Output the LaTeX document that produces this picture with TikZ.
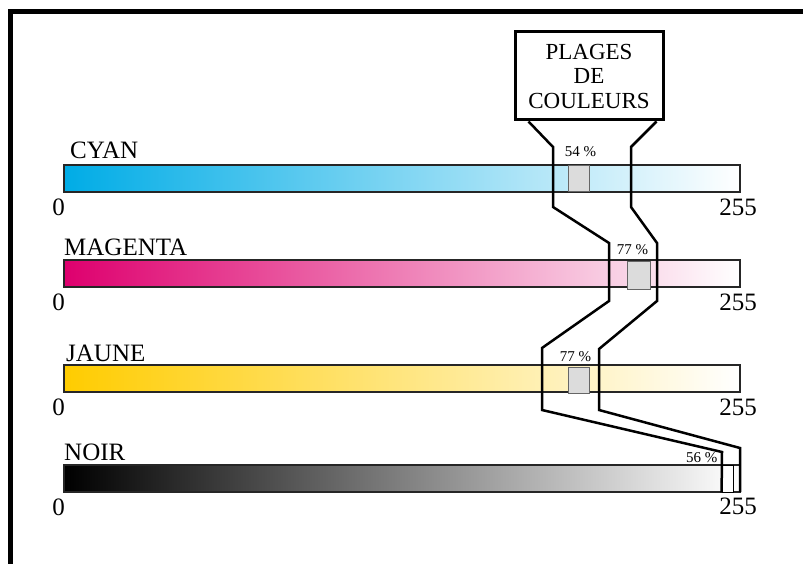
\documentclass[tikz,border=0pt]{standalone}
\usepackage{fontspec}
\setmainfont{Liberation Serif}
\usepackage{xcolor}
\usetikzlibrary{positioning}
\definecolor{inkcyan}{RGB}{0,172,230}
\definecolor{inkmagenta}{RGB}{222,0,110}
\definecolor{inkjaune}{RGB}{255,204,0}
\definecolor{knobgray}{RGB}{220,220,220}

\begin{document}
\begin{tikzpicture}[
  x=1pt, y=-1pt,
  bar/.style={rectangle, draw=black!85, line width=2pt, anchor=north west,
              minimum width=676pt, minimum height=27pt, inner sep=0pt,
              outer sep=0pt, right color=white},
  knob/.style={rectangle, draw=black!60, line width=0.8pt, fill=knobgray,
               minimum width=21pt, minimum height=26pt, inner sep=0pt},
  barlabel/.style={inner sep=0pt, font=\fontsize{25}{28}\selectfont},
  pct/.style={inner sep=0pt, font=\fontsize{15}{17}\selectfont},
  titlebox/.style={rectangle, draw, line width=3pt, align=center,
                   minimum width=148pt, minimum height=88pt, inner sep=0pt,
                   font=\fontsize{23}{24.5}\selectfont},
  conn/.style={line width=2.5pt, black, line join=miter},
  frame/.style={line width=5pt, black}
]
\useasboundingbox (0,0) rectangle (803,564);
\draw[frame] (810,12) -- (10,12) -- (10,570);

\node[titlebox] (plages) at (589,76) {PLAGES\\DE\\COULEURS};

\node[bar, left color=inkcyan] (cyan) at (64,165) {};
\node[bar, left color=inkmagenta] (magenta) at (64,260) {};
\node[bar, left color=inkjaune] (jaune) at (64,365) {};
\node[bar, left color=black] (noir) at (64,465) {};

\node[barlabel, above right=6pt and 6pt of cyan.north west] {CYAN};
\node[barlabel, above right=4pt and 0pt of magenta.north west] {MAGENTA};
\node[barlabel, above right=3pt and 2pt of jaune.north west] {JAUNE};
\node[barlabel, above right=4pt and 0pt of noir.north west] {NOIR};

\node[barlabel, below left=7pt and -1pt of cyan.south west] {0};
\node[barlabel, below left=7pt and -1pt of magenta.south west] {0};
\node[barlabel, below left=7pt and -1pt of jaune.south west] {0};
\node[barlabel, below left=7pt and -1pt of noir.south west] {0};

\node[barlabel, below=7pt of cyan.south east, xshift=-2pt] {255};
\node[barlabel, below=7pt of magenta.south east, xshift=-2pt] {255};
\node[barlabel, below=7pt of jaune.south east, xshift=-2pt] {255};
\node[barlabel, below=6pt of noir.south east, xshift=-2pt] {255};

\node[knob] (kcyan) at (578.5,178) {};
\node[knob, minimum width=23pt, minimum height=28pt] (kmagenta) at (638.5,275) {};
\node[knob] (kjaune) at (578.5,380) {};
\node[knob, fill=white, draw=black, minimum width=11pt, minimum height=27pt] (knoir) at (727.5,478.5) {};

\node[pct, above=8pt of kcyan, xshift=2pt] {54 \%};
\node[pct, above=6pt of kmagenta, xshift=-6pt] {77 \%};
\node[pct, above=5pt of kjaune, xshift=-3pt] {77 \%};
\node[pct, above left=2pt and 4pt of knoir.north west] {56 \%};

\draw[conn] ([xshift=15pt]plages.south west) -- (553,147) -- (553,207)
  -- (609,243) -- (609,301) -- (542,348) -- (542,410) -- (722,452)
  -- (knoir.south west);
\draw[conn] ([xshift=-8pt]plages.south east) -- (631,147) -- (631,207)
  -- (657,243) -- (657,301) -- (599,349) -- (599,410) -- (740,448)
  -- (noir.south east);
\end{tikzpicture}
\end{document}
